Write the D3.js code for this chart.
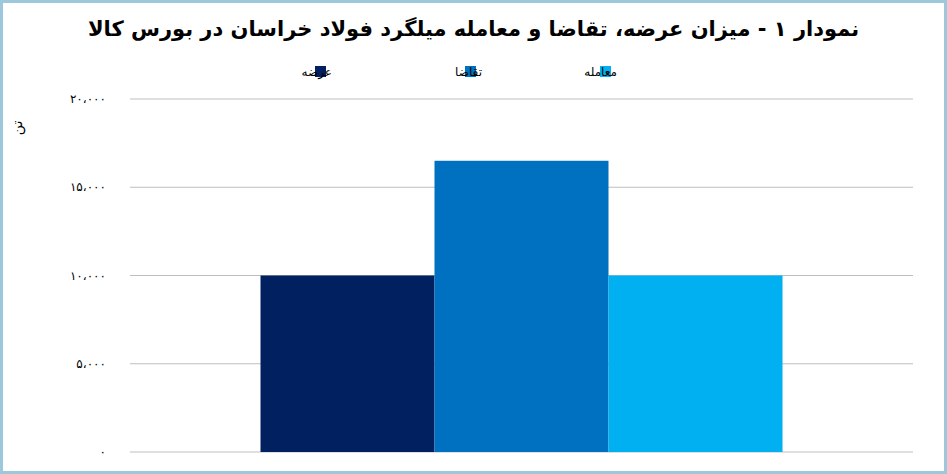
<!DOCTYPE html>
<html><head><meta charset="utf-8">
<script src="https://cdn.jsdelivr.net/npm/d3@7"></script>
<style>body{margin:0;background:#fff}svg{display:block;font-family:"DejaVu Sans",sans-serif}</style>
</head><body><div class="chart"></div>
<script>
const series = ["عرضه", "تقاضا", "معامله"];
const values = [10000, 16500, 10000];
const colors = ["#002060", "#0070c0", "#00b0f0"];
const ticks = [0, 5000, 10000, 15000, 20000];

const width = 947, height = 474;
const m = {top: 99, right: 34, bottom: 22, left: 130};
const fa = s => s.replace(/\d/g, d => "۰۱۲۳۴۵۶۷۸۹"[d]).replace(/,/g, "،");
const format = d3.format(",");

const svg = d3.select(".chart").append("svg").attr("width", width).attr("height", height);
svg.append("rect").attr("x", 1.5).attr("y", 1.5).attr("width", width - 3).attr("height", height - 3)
    .attr("fill", "#fff").attr("stroke", "#9dc8dc").attr("stroke-width", 3);

const y = d3.scaleLinear().domain([0, 20000]).range([height - m.bottom, m.top]);
const x0 = d3.scaleBand().domain(["g"]).range([m.left, width - m.right]).paddingOuter(0.25).paddingInner(0);
const x = d3.scaleBand().domain(series).range([x0("g"), x0("g") + x0.bandwidth()]);

svg.append("g").selectAll("line").data(ticks).join("line")
    .attr("x1", m.left).attr("x2", width - m.right)
    .attr("y1", d => y(d)).attr("y2", d => y(d))
    .attr("stroke", "#bfbfbf");

svg.append("g").attr("font-size", 12).attr("text-anchor", "end").selectAll("text").data(ticks).join("text")
    .attr("x", 106).attr("y", d => y(d)).attr("dy", "0.35em")
    .text(d => fa(format(d)));

svg.append("text").attr("transform", "translate(22,128) rotate(-90)")
    .attr("text-anchor", "middle").attr("font-size", 14).text("تن");

svg.append("g").selectAll("rect").data(series).join("rect")
    .attr("x", d => x(d)).attr("width", x.bandwidth())
    .attr("y", (d, i) => y(values[i])).attr("height", (d, i) => y(0) - y(values[i]))
    .attr("fill", (d, i) => colors[i]);

svg.append("text").attr("x", width / 2).attr("y", 36).attr("text-anchor", "middle")
    .attr("font-size", 21).attr("font-weight", "bold").attr("direction", "rtl")
    .text("نمودار ۱ - میزان عرضه، تقاضا و معامله میلگرد فولاد خراسان در بورس کالا");

const legendX = [360, 510, 645];
const lg = svg.append("g").selectAll("g").data(series).join("g")
    .attr("transform", (d, i) => `translate(${legendX[i]},72)`);
lg.append("rect").attr("x", -45).attr("y", -6).attr("width", 11).attr("height", 11).attr("fill", (d, i) => colors[i]);
lg.append("text").attr("x", -28).attr("dy", "0.35em").attr("font-size", 12).attr("direction", "rtl")
    .attr("text-anchor", "start").text(d => d);
</script></body></html>
